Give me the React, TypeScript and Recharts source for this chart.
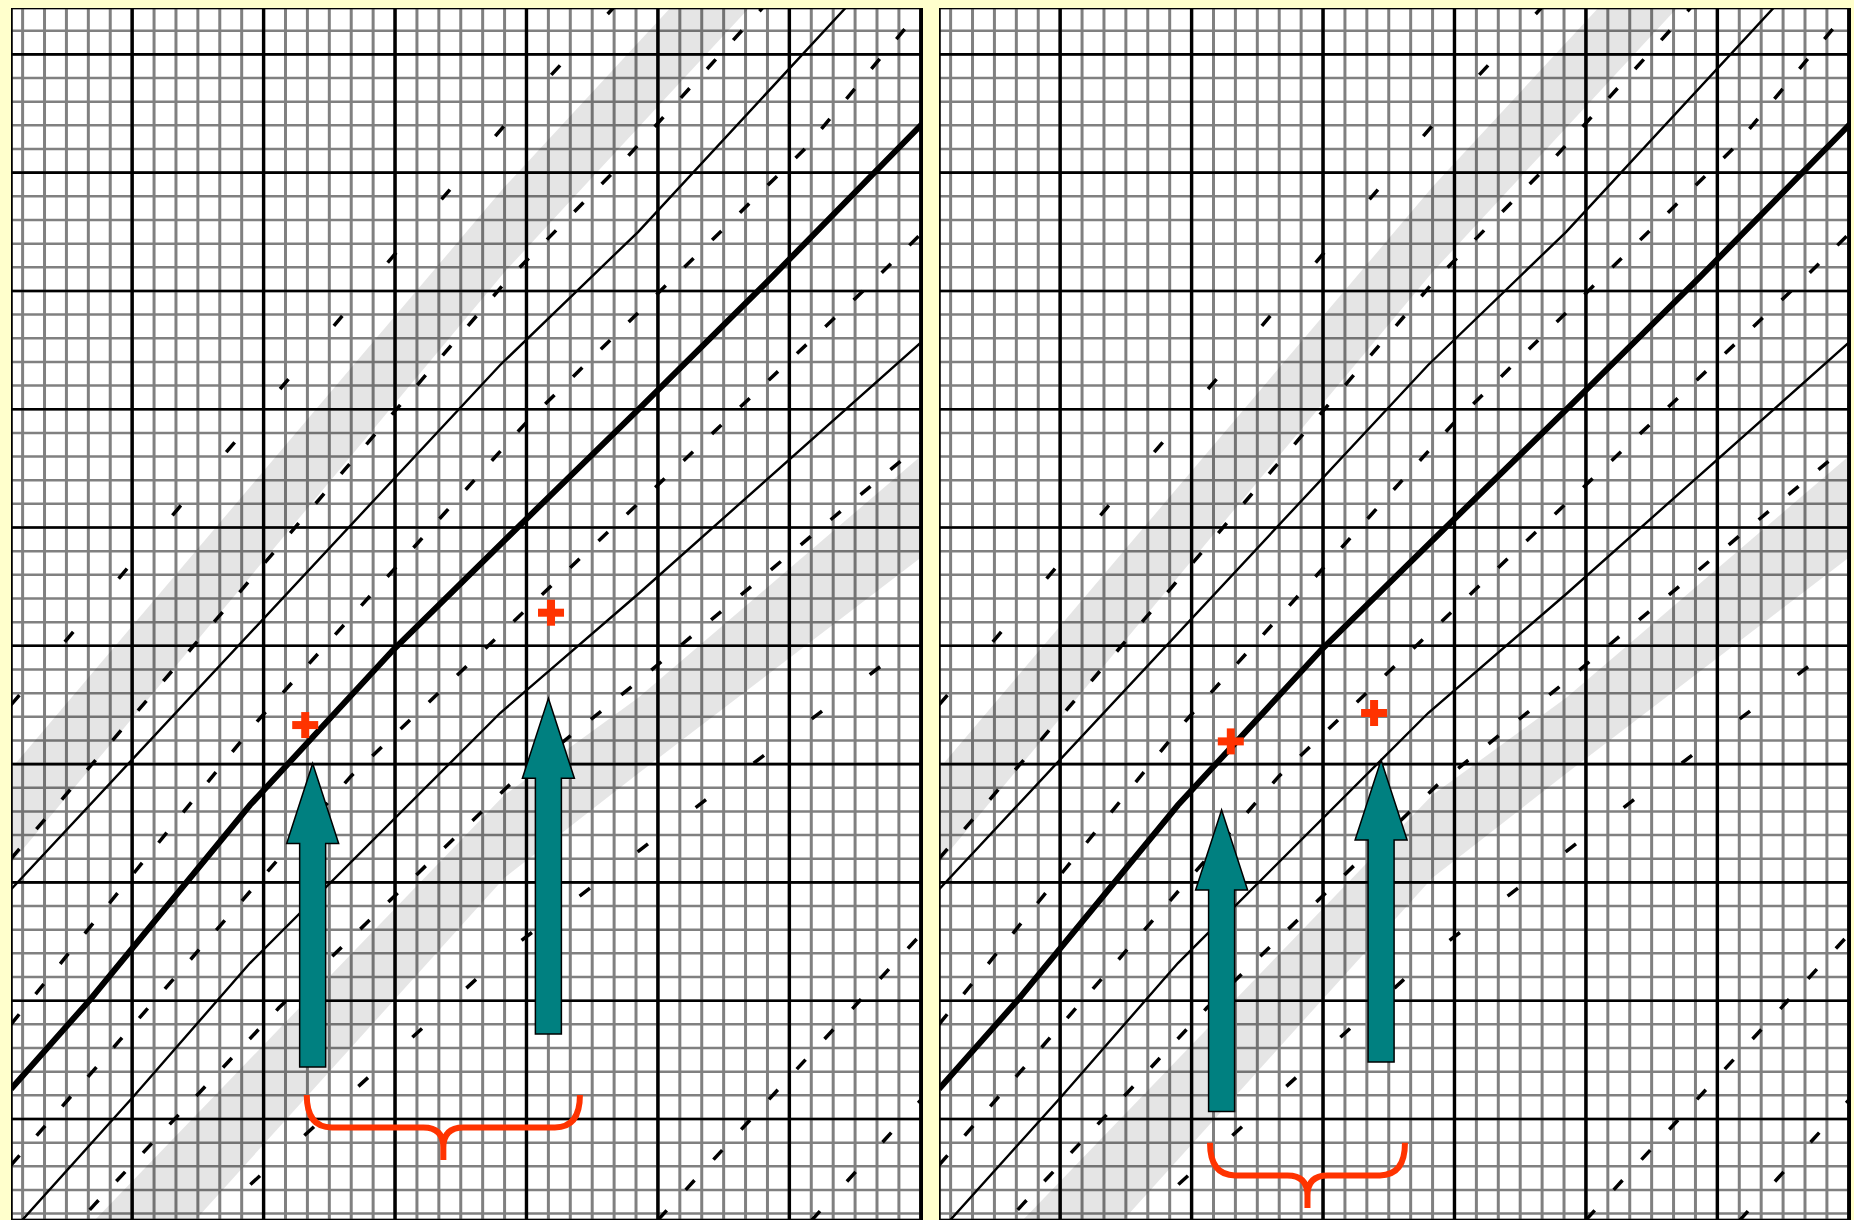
import React from 'react';
import {
  ComposedChart,
  XAxis,
  YAxis,
  CartesianGrid,
  Line,
  Area,
  ReferenceLine,
  ReferenceDot,
} from 'recharts';

// position along sequence 1 (u) and sequence 2 (v), in grid cells
const X_DOMAIN: [number, number] = [-0.53, 41.1];
const Y_DOMAIN: [number, number] = [-4.27, 46.96];

const minorCols = [0, 1, 2, 3, 4, 5, 6, 7, 8, 9, 10, 11, 12, 13, 14, 15, 16, 17, 18, 19, 20, 21, 22, 23, 24, 25, 26, 27, 28, 29, 30, 31, 32, 33, 34, 35, 36, 37, 38, 39, 40, 41];
const majorCols = [5, 11, 17, 23, 29, 35, 41];
const minorRows = [-4, -3, -2, -1, 0, 1, 2, 3, 4, 5, 6, 7, 8, 9, 10, 11, 12, 13, 14, 15, 16, 17, 18, 19, 20, 21, 22, 23, 24, 25, 26, 27, 28, 29, 30, 31, 32, 33, 34, 35, 36, 37, 38, 39, 40, 41, 42, 43, 44, 45, 46];
const majorRows = [0, 5, 10, 15, 20, 25, 30, 35, 40, 45];

// solid diagonals
const mainDiagonal = [
  { u: -0.53, v: 1.27 }, { u: 3.07, v: 5.03 }, { u: 10.38, v: 13.27 }, { u: 16.91, v: 19.82 },
  { u: 22.01, v: 24.47 }, { u: 28.09, v: 29.97 }, { u: 34.21, v: 35.59 }, { u: 41.1, v: 42.1 },
];
const upperDiagonal = [
  { u: -0.53, v: 9.7 }, { u: 21.8, v: 31.87 }, { u: 28.1, v: 37.5 }, { u: 41.1, v: 50.5 },
];
const lowerDiagonal = [
  { u: -0.53, v: -4.8 }, { u: 5.04, v: 0.93 }, { u: 10.38, v: 6.59 }, { u: 21.8, v: 17.16 },
  { u: 28.1, v: 22.19 }, { u: 41.1, v: 32.9 },
];

// broken (dashed) diagonals
const rowA = [{ u: -0.53, v: 11.0 }, { u: 22.16, v: 35.5 }, { u: 27.05, v: 40.1 }, { u: 34, v: 47.2 }];
const rowB = [{ u: -0.53, v: 4.0 }, { u: 10.7, v: 16.8 }, { u: 22.9, v: 29.35 }, { u: 35.7, v: 41.0 }, { u: 41.1, v: 47.0 }];
const rowC = [{ u: -0.53, v: -1.95 }, { u: 4.45, v: 3.34 }, { u: 15, v: 14.5 }, { u: 25.45, v: 23.7 }, { u: 38.6, v: 35.2 }, { u: 41.1, v: 37.5 }];
const rowD = [{ u: -0.53, v: -7.5 }, { u: 3.3, v: -3.6 }, { u: 11.7, v: 4.7 }, { u: 22.2, v: 14.1 }, { u: 27.7, v: 18.2 }, { u: 41.1, v: 28.6 }];
const rowE = [{ u: -0.53, v: 17.5 }, { u: 22, v: 42.0 }, { u: 28, v: 48.0 }];
const rowF = [{ u: 3, v: -9 }, { u: 22, v: 7 }, { u: 41.1, v: 20.5 }];
const rowG = [{ u: 29, v: -4.27 }, { u: 41.1, v: 7.9 }];
const rowH = [{ u: 36, v: -4.3 }, { u: 41.1, v: 0.9 }];

// highlighted bands
const upperBand = [{ u: -0.53, band: [10.8, 14.8] }, { u: 22, band: [35.8, 39.4] }, { u: 41.1, band: [54.9, 58.5] }];
const lowerBand = [{ u: -0.53, band: [-12.9, -7.95] }, { u: 22, band: [10.2, 13.7] }, { u: 28.1, band: [14.6, 17.8] }, { u: 41.1, band: [23.8, 28.1] }];

// annotations
const arrowsLeft = [{ u: 13.24, tip: 15.03, base: 2.2 }, { u: 24.0, tip: 17.78, base: 3.59 }];
const arrowsRight = [{ u: 12.37, tip: 13.06, base: 0.32 }, { u: 19.65, tip: 15.17, base: 2.41 }];
const plusLeft = [{ u: 12.9, v: 16.65 }, { u: 24.12, v: 21.4 }];
const plusRight = [{ u: 12.79, v: 15.96 }, { u: 19.33, v: 17.16 }];
const braceLeft = [{ from: 12.97, to: 25.44, top: 1.01, point: -1.73 }];
const braceRight = [{ from: 11.84, to: 20.74, top: -1.01, point: -3.76 }];

const RED = '#FF3300';
const TEAL = '#008080';

const arrowShape = (p: any) => {
  const { x1, y1, x2, y2 } = p;
  const head = 80;
  const hw = 26;
  const sw = 13;
  const pts = [
    [x2, y2], [x2 + hw, y2 + head], [x2 + sw, y2 + head], [x2 + sw, y1],
    [x2 - sw, y1], [x2 - sw, y2 + head], [x2 - hw, y2 + head],
  ].map((q) => q.join(',')).join(' ');
  return <polygon points={pts} fill={TEAL} stroke="#000" strokeWidth={1.5} />;
};

const braceShape = (p: any) => {
  const { x1, y1, x2, y2 } = p;
  const xm = (x1 + x2) / 2;
  const yb = (y1 + y2) / 2;
  const r = 25;
  const rc = 20;
  const d =
    `M${x1},${y1} Q${x1},${yb} ${x1 + r},${yb} L${xm - rc},${yb} Q${xm},${yb} ${xm},${yb + rc} L${xm},${y2} ` +
    `M${x2},${y1} Q${x2},${yb} ${x2 - r},${yb} L${xm + rc},${yb} Q${xm},${yb} ${xm},${yb + rc}`;
  return <path d={d} fill="none" stroke={RED} strokeWidth={6} />;
};

const plusShape = (p: any) => {
  const { cx, cy } = p;
  return (
    <g>
      <rect x={cx - 13} y={cy - 4} width={26} height={8} fill={RED} />
      <rect x={cx - 4} y={cy - 13} width={8} height={26} fill={RED} />
    </g>
  );
};

type PanelProps = {
  left: number;
  arrows: { u: number; tip: number; base: number }[];
  pluses: { u: number; v: number }[];
  braces: { from: number; to: number; top: number; point: number }[];
};

function DotPlotPanel({ left, arrows, pluses, braces }: PanelProps) {
  const ax = { xAxisId: 'minor', yAxisId: 'minor' };
  const solid = (data: any[], w: number, key: string) => (
    <Line key={key} {...ax} data={data} dataKey="v" type="linear" stroke="#000" strokeWidth={w}
      dot={false} activeDot={false} isAnimationActive={false} />
  );
  const dashed = (data: any[], dash: string, key: string) => (
    <Line key={key} {...ax} data={data} dataKey="v" type="linear" stroke="#000" strokeWidth={3.5}
      strokeDasharray={dash} dot={false} activeDot={false} isAnimationActive={false} />
  );
  return (
    <div style={{ position: 'absolute', left, top: 8, width: 912, height: 1212, background: '#fff' }}>
      <ComposedChart width={912} height={1212} margin={{ top: 0, right: 0, bottom: 0, left: 0 }}>
        <XAxis xAxisId="minor" dataKey="u" type="number" domain={X_DOMAIN} ticks={minorCols} interval={0} allowDataOverflow hide />
        <XAxis xAxisId="major" dataKey="u" type="number" domain={X_DOMAIN} ticks={majorCols} interval={0} allowDataOverflow hide />
        <YAxis yAxisId="minor" type="number" domain={Y_DOMAIN} ticks={minorRows} interval={0} allowDataOverflow hide />
        <YAxis yAxisId="major" type="number" domain={Y_DOMAIN} ticks={majorRows} interval={0} allowDataOverflow hide />
        <CartesianGrid xAxisId="minor" yAxisId="minor" horizontal={false} stroke="#808080" strokeWidth={3} fill="none" />
        <CartesianGrid xAxisId="minor" yAxisId="minor" vertical={false} stroke="#808080" strokeWidth={2.5} fill="none" />
        <CartesianGrid xAxisId="major" yAxisId="major" horizontal={false} stroke="#000" strokeWidth={3.4} fill="none" />
        <CartesianGrid xAxisId="major" yAxisId="major" vertical={false} stroke="#000" strokeWidth={2.6} fill="none" />

        <Area {...ax} data={upperBand} dataKey="band" type="linear" stroke="none" fill="#000" fillOpacity={0.1} isAnimationActive={false} />
        <Area {...ax} data={lowerBand} dataKey="band" type="linear" stroke="none" fill="#000" fillOpacity={0.1} isAnimationActive={false} />

        {dashed(rowA, '13 26', 'a')}
        {dashed(rowB, '13 26', 'b')}
        {dashed(rowC, '13 26', 'c')}
        {dashed(rowD, '13 26', 'd')}
        {dashed(rowE, '13 70', 'e')}
        {dashed(rowF, '13 60', 'f')}
        {dashed(rowG, '13 28', 'g')}
        {dashed(rowH, '13 40', 'h')}
        {solid(upperDiagonal, 2.4, 'up')}
        {solid(lowerDiagonal, 2.4, 'low')}
        {solid(mainDiagonal, 6, 'main')}

        {arrows.map((a, i) => (
          <ReferenceLine key={`ar${i}`} {...ax} zIndex={1000}
            segment={[{ x: a.u, y: a.base }, { x: a.u, y: a.tip }]} shape={arrowShape} />
        ))}
        {pluses.map((p, i) => (
          <ReferenceDot key={`pl${i}`} {...ax} zIndex={1000} x={p.u} y={p.v} shape={plusShape} />
        ))}
        {braces.map((b, i) => (
          <ReferenceLine key={`br${i}`} {...ax} zIndex={1000}
            segment={[{ x: b.from, y: b.top }, { x: b.to, y: b.point }]} shape={braceShape} />
        ))}
      </ComposedChart>
    </div>
  );
}

export default function App() {
  return (
    <div style={{ position: 'relative', width: 1854, height: 1220, background: '#FFFFCC', overflow: 'hidden' }}>
      <style>{'body{margin:0}'}</style>
      <DotPlotPanel left={11} arrows={arrowsLeft} pluses={plusLeft} braces={braceLeft} />
      <DotPlotPanel left={939} arrows={arrowsRight} pluses={plusRight} braces={braceRight} />
    </div>
  );
}
